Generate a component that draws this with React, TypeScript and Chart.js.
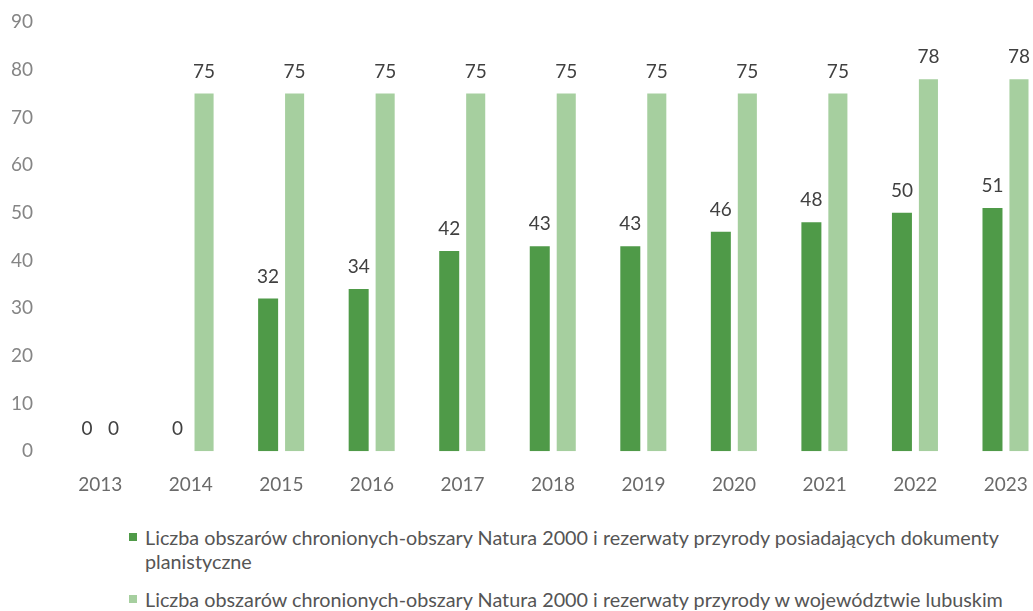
import React, { useEffect, useRef } from "react";
import { Chart, registerables } from "chart.js";

Chart.register(...registerables);

const years = ["2013", "2014", "2015", "2016", "2017", "2018", "2019", "2020", "2021", "2022", "2023"];
const withPlans = [0, 0, 32, 34, 42, 43, 43, 46, 48, 50, 51];
const allAreas = [0, 75, 75, 75, 75, 75, 75, 75, 75, 78, 78];
const yTicks = [0, 10, 20, 30, 40, 50, 60, 70, 80, 90];
const labelWithPlansLine1 = "Liczba obszarów chronionych-obszary Natura 2000 i rezerwaty przyrody posiadających dokumenty";
const labelWithPlansLine2 = "planistyczne";
const labelAll = "Liczba obszarów chronionych-obszary Natura 2000 i rezerwaty przyrody w województwie lubuskim";

const DARK = "#4f9a48";
const LIGHT = "#a6cf9f";
const FONT = "Lato, 'Open Sans', sans-serif";

const valueLabels = {
  id: "valueLabels",
  afterDatasetsDraw(chart: any) {
    const ctx = chart.ctx;
    ctx.save();
    ctx.font = `19px ${FONT}`;
    ctx.fillStyle = "#404040";
    ctx.textAlign = "center";
    ctx.textBaseline = "middle";
    chart.data.datasets.forEach((ds: any, i: number) => {
      const meta = chart.getDatasetMeta(i);
      meta.data.forEach((el: any, j: number) => {
        ctx.fillText(String(ds.data[j]), el.x, el.y - 22);
      });
    });
    ctx.restore();
  },
};

export default function App() {
  const ref = useRef<HTMLCanvasElement>(null);
  useEffect(() => {
    if (!ref.current) return;
    const chart = new Chart(ref.current, {
      type: "bar",
      data: {
        labels: years,
        datasets: [
          { label: labelWithPlansLine1 + " " + labelWithPlansLine2, data: withPlans, backgroundColor: DARK, categoryPercentage: 0.585, barPercentage: 0.755 },
          { label: labelAll, data: allAreas, backgroundColor: LIGHT, categoryPercentage: 0.585, barPercentage: 0.72 },
        ],
      },
      options: {
        animation: false,
        responsive: true,
        maintainAspectRatio: false,
        layout: { padding: { top: 22, right: 0, left: 0, bottom: 0 } },
        plugins: { legend: { display: false }, tooltip: { enabled: false } },
        scales: {
          x: {
            grid: { display: false, drawTicks: false },
            border: { display: false },
            ticks: { color: "#6a6a6a", font: { family: FONT, size: 19 }, padding: 22, maxRotation: 0 },
          },
          y: {
            min: 0,
            max: 90,
            afterBuildTicks: (scale: any) => {
              scale.ticks = yTicks.map((v) => ({ value: v }));
            },
            afterFit: (scale: any) => {
              scale.width = 55;
              scale.paddingTop = 10;
              scale.paddingBottom = 10;
            },
            grid: { display: false, drawTicks: false },
            border: { display: false },
            ticks: { color: "#858585", font: { family: FONT, size: 19 }, padding: 22 },
          },
        },
      },
      plugins: [valueLabels],
    });
    return () => chart.destroy();
  }, []);

  const sq = (c: string) => ({
    display: "inline-block",
    width: 8,
    height: 8,
    background: c,
    position: "absolute" as const,
    left: 0,
    top: 8,
  });

  return (
    <div style={{ position: "absolute", left: 0, top: 0, width: 1033, height: 611, overflow: "hidden", background: "#fff" }}>
      <div style={{ position: "absolute", left: 0, top: 0, width: 1051, height: 518 }}>
        <canvas ref={ref} />
      </div>
      <div style={{ position: "absolute", left: 129, top: 525, fontFamily: FONT, fontSize: 19.8, color: "#555", lineHeight: "24px", whiteSpace: "nowrap" }}>
        <div style={{ position: "relative", paddingLeft: 16 }}>
          <span style={sq(DARK)} />
          <div>{labelWithPlansLine1}</div>
          <div>{labelWithPlansLine2}</div>
        </div>
        <div style={{ position: "relative", paddingLeft: 16, marginTop: 14 }}>
          <span style={sq(LIGHT)} />
          <div>{labelAll}</div>
        </div>
      </div>
    </div>
  );
}
